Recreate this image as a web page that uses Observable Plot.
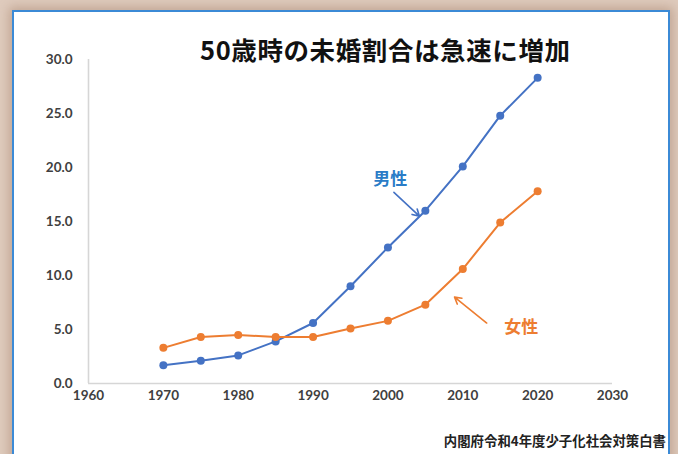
<!DOCTYPE html>
<html>
<head>
<meta charset="utf-8">
<script src="https://cdn.jsdelivr.net/npm/d3@7"></script>
<script src="https://cdn.jsdelivr.net/npm/@observablehq/plot@0.6"></script>
<style>
  html, body { margin: 0; padding: 0; }
  body { width: 678px; height: 454px; overflow: hidden; background: #dfcbbd; }
  #wrap { position: relative; width: 678px; height: 454px; }
  #panel {
    position: absolute; left: 12px; top: 10px; width: 654px; height: 460px;
    background: #fff; border: 2px solid #3b8ad6;
    box-shadow: 0 0 10px 3px rgba(150,110,85,0.4);
  }
  #chart { position: absolute; left: 0; top: 0; }
  #title {
    position: absolute; left: 200px; top: 30px; white-space: nowrap;
    font-family: "Noto Sans CJK JP", sans-serif; font-weight: 700; font-size: 25.5px;
    color: #111; letter-spacing: 0.6px;
  }
  #caption {
    position: absolute; right: 12px; top: 430px; white-space: nowrap;
    font-family: "Noto Sans CJK JP", sans-serif; font-weight: 700; font-size: 13.4px;
    color: #222;
  }
</style>
</head>
<body>
<div id="wrap">
  <div id="panel"></div>
  <div id="chart"></div>
  <div id="title">50歳時の未婚割合は急速に増加</div>
  <div id="caption">内閣府令和4年度少子化社会対策白書</div>
</div>
<script>
const years = [1970, 1975, 1980, 1985, 1990, 1995, 2000, 2005, 2010, 2015, 2020];
const male = [1.7, 2.1, 2.6, 3.9, 5.6, 9.0, 12.6, 16.0, 20.1, 24.8, 28.3];
const female = [3.3, 4.3, 4.5, 4.3, 4.3, 5.1, 5.8, 7.3, 10.6, 14.9, 17.8];
const xTicks = [1960, 1970, 1980, 1990, 2000, 2010, 2020, 2030];
const yTicks = [0, 5, 10, 15, 20, 25, 30];
const seriesNames = ["男性", "女性"];
const seriesColors = ["#4472c4", "#ed7d31"];
const labelColors = ["#2a7cc7", "#ed7d31"];
// annotation anchors in data units (year, percent)
const labelX = [2000.3, 2017.8];
const labelY = [18.9, 5.2];
const arrowX1 = [2000.8, 2013.2];
const arrowY1 = [17.7, 5.6];
const arrowX2 = [2004.2, 2008.9];
const arrowY2 = [15.5, 8.0];

const rows = [];
years.forEach((yr, i) => {
  rows.push({year: yr, value: male[i], s: seriesNames[0]});
  rows.push({year: yr, value: female[i], s: seriesNames[1]});
});
const notes = seriesNames.map((n, i) => ({
  name: n, lx: labelX[i], ly: labelY[i],
  x1: arrowX1[i], y1: arrowY1[i], x2: arrowX2[i], y2: arrowY2[i],
  color: seriesColors[i], lcolor: labelColors[i]
}));

const chart = Plot.plot({
  width: 678, height: 454,
  marginLeft: 88, marginRight: 66, marginTop: 59, marginBottom: 71,
  style: {background: "transparent", overflow: "visible"},
  x: {domain: [1960, 2030], label: null},
  y: {domain: [0, 30], label: null},
  color: {domain: seriesNames, range: seriesColors},
  marks: [
    Plot.ruleY([0], {stroke: "#d6d6d6", strokeWidth: 1.6}),
    Plot.ruleX([1960], {stroke: "#d6d6d6", strokeWidth: 1.6}),
    Plot.axisX(xTicks, {tickSize: 0, tickPadding: 7, tickFormat: d => String(d), label: null,
      fontFamily: "Lato, sans-serif", fontWeight: 700, fontSize: 13.5, fill: "#404040",
      style: "letter-spacing: 0.9px"}),
    Plot.axisY(yTicks, {tickSize: 0, tickPadding: 16, tickFormat: d => d.toFixed(1), label: null,
      fontFamily: "Lato, sans-serif", fontWeight: 700, fontSize: 13.5, fill: "#404040",
      style: "letter-spacing: 0.9px"}),
    Plot.line(rows, {x: "year", y: "value", z: "s", stroke: "s", strokeWidth: 2}),
    Plot.dot(rows, {x: "year", y: "value", fill: "s", r: 4}),
    Plot.arrow(notes, {x1: "x1", y1: "y1", x2: "x2", y2: "y2", stroke: d => d.color,
      strokeWidth: 1.6, headLength: 7}),
    Plot.text(notes, {x: "lx", y: "ly", text: "name", fill: d => d.lcolor,
      fontFamily: "Noto Sans CJK JP, sans-serif", fontWeight: 700, fontSize: 17})
  ]
});
document.getElementById("chart").appendChild(chart);
</script>
</body>
</html>
